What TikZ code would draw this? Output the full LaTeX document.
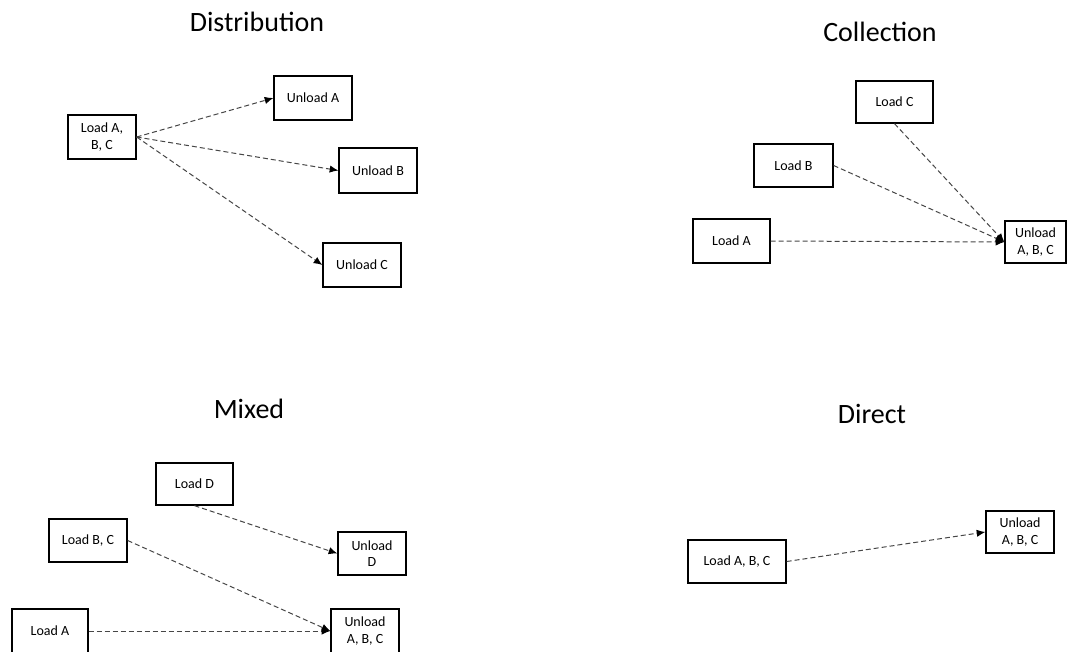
\documentclass[tikz,border=0pt]{standalone}
\usepackage{fontspec}
\setmainfont{Carlito}
\usetikzlibrary{arrows.meta}
\begin{document}
\begin{tikzpicture}[x=0.75pt,y=-0.75pt,
  box/.style 2 args={draw=black,line width=0.95pt,fill=white,inner sep=0pt,
    minimum width=#1*0.75pt,minimum height=#2*0.75pt,align=center,
    font=\fontsize{10.5}{12.5}\selectfont},
  title/.style={inner sep=0pt,font=\fontsize{21}{24}\selectfont},
  flow/.style={draw={rgb,255:red,70;green,70;blue,70},line width=0.75pt,
    dash pattern=on 3.75pt off 2.25pt,
    -{Latex[length=6.5pt,width=5.5pt,fill=black,color=black]}}]
\useasboundingbox (0,0) rectangle (1067,651);
\clip (0,0) rectangle (1067,651);

% Distribution: one load point feeding three unload points
\node[title] (tDist) at (257,22) {Distribution};
\node[box={68}{44}] (dL) at (102,137) {Load A,\\B, C};
\node[box={78}{44}] (dUA) at (313,98) {Unload A};
\node[box={78}{45}] (dUB) at (378,170.5) {Unload B};
\node[box={78}{44}] (dUC) at (362,265) {Unload C};
\draw[flow] (dL.east) -- (dUA.west);
\draw[flow] (dL.east) -- (dUB.west);
\draw[flow] (dL.east) -- (dUC.west);

% Collection: three load points feeding one unload point
\node[title] (tColl) at (880,32) {Collection};
\node[box={77}{42}] (cLC) at (894.5,102) {Load C};
\node[box={79}{43}] (cLB) at (793.5,165.5) {Load B};
\node[box={77}{44}] (cLA) at (731.5,241) {Load A};
\node[box={61}{42}] (cU) at (1035.5,242) {Unload\\A, B, C};
\draw[flow] (cLC.south) -- (cU.west);
\draw[flow] (cLB.east) -- (cU.west);
\draw[flow] (cLA.east) -- (cU.west);

% Mixed
\node[title] (tMix) at (249,409) {Mixed};
\node[box={77}{42}] (mLD) at (194.5,484) {Load D};
\node[box={78}{43}] (mLBC) at (88,540.5) {Load B, C};
\node[box={76}{44}] (mLA) at (50,631) {Load A};
\node[box={68}{43}] (mUD) at (372,553.5) {Unload\\D};
\node[box={68}{44}] (mU) at (365,631) {Unload\\A, B, C};
\draw[flow] (mLD.south) -- (mUD.west);
\draw[flow] (mLBC.east) -- (mU.west);
\draw[flow] (mLA.east) -- (mU.west);

% Direct
\node[title] (tDir) at (872,414) {Direct};
\node[box={98}{43}] (xL) at (737,561.5) {Load A, B, C};
\node[box={68}{42}] (xU) at (1020,532) {Unload\\A, B, C};
\draw[flow] (xL.east) -- (xU.west);
\end{tikzpicture}
\end{document}
